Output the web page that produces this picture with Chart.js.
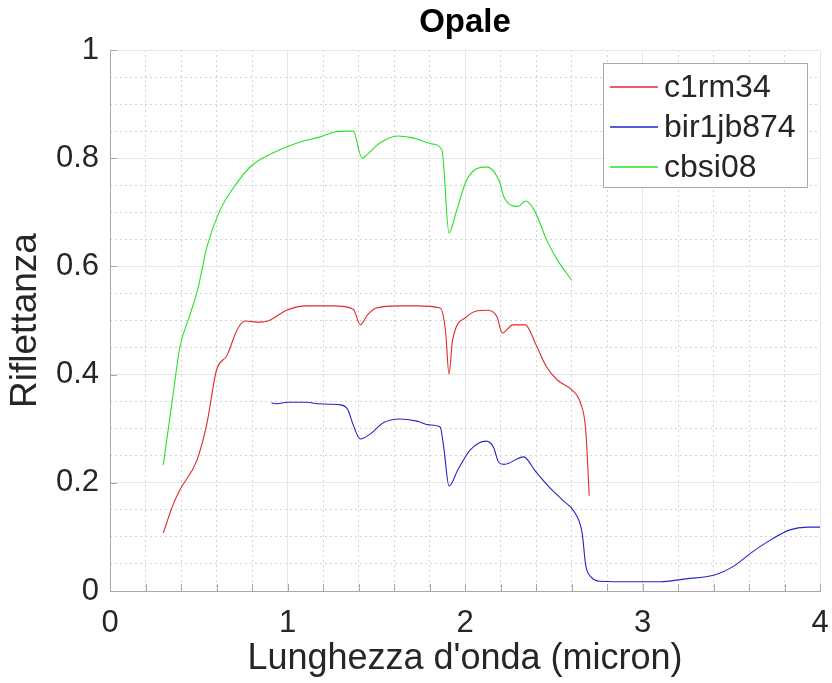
<!DOCTYPE html>
<html>
<head>
<meta charset="utf-8">
<title>Opale</title>
<script src="https://cdn.jsdelivr.net/npm/chart.js@4"></script>
<style>
  html, body { margin: 0; padding: 0; background: #fff; }
  #wrap { width: 832px; height: 683px; }
</style>
</head>
<body>
<div id="wrap"><canvas id="chart" width="832" height="683"></canvas></div>
<script>
// spectra: wavelength (micron) / reflectance
const seriesNames = ['c1rm34', 'bir1jb874', 'cbsi08'];
const seriesColors = ['rgb(228,40,40)', 'rgb(36,36,200)', 'rgb(40,224,40)'];

const c1rm34X = [0.30,0.35,0.394,0.49,0.546,0.60,0.66,0.715,0.76,0.845,0.89,0.995,1.11,1.26,1.37,1.41,1.45,1.50,1.63,1.73,1.86,1.89,1.91,1.93,2.01,2.07,2.13,2.18,2.21,2.27,2.34,2.40,2.46,2.52,2.60,2.65,2.68,2.70];
const c1rm34Y = [0.107,0.155,0.187,0.242,0.31,0.408,0.436,0.482,0.499,0.497,0.499,0.519,0.527,0.527,0.521,0.492,0.51,0.523,0.527,0.527,0.523,0.482,0.401,0.464,0.507,0.518,0.519,0.507,0.477,0.492,0.492,0.455,0.414,0.39,0.372,0.348,0.298,0.176];

const bir1jb874X = [0.91,0.94,1.00,1.11,1.17,1.30,1.34,1.37,1.41,1.465,1.54,1.63,1.73,1.80,1.86,1.88,1.91,1.96,2.03,2.12,2.16,2.19,2.22,2.33,2.40,2.48,2.55,2.62,2.66,2.68,2.71,2.76,2.95,3.10,3.23,3.41,3.51,3.61,3.72,3.83,3.93,4.00];
const bir1jb874Y = [0.348,0.346,0.349,0.349,0.346,0.344,0.335,0.307,0.281,0.29,0.311,0.318,0.314,0.307,0.303,0.266,0.194,0.224,0.261,0.277,0.266,0.238,0.234,0.248,0.22,0.19,0.168,0.144,0.107,0.048,0.026,0.018,0.017,0.017,0.022,0.030,0.045,0.07,0.094,0.113,0.118,0.118];

const cbsi08X = [0.30,0.35,0.394,0.45,0.496,0.546,0.62,0.714,0.80,0.92,1.07,1.18,1.26,1.35,1.37,1.42,1.45,1.52,1.62,1.70,1.82,1.87,1.91,1.95,2.01,2.12,2.19,2.22,2.30,2.34,2.39,2.46,2.52,2.60];
const cbsi08Y = [0.233,0.35,0.451,0.51,0.56,0.636,0.704,0.754,0.787,0.81,0.83,0.839,0.848,0.85,0.85,0.80,0.807,0.828,0.841,0.838,0.826,0.815,0.662,0.70,0.76,0.784,0.76,0.728,0.711,0.721,0.704,0.649,0.612,0.575];

const xRange = [0, 4];
const yRange = [0, 1];

const FONT = "'Liberation Sans', Arial, Helvetica, sans-serif";
const TEXT = '#262626';
const AXIS = '#a8a8a8';

function toPoints(xs, ys){
  return xs.map((x, i) => ({ x, y: ys[i] }));
}

function isMultiple(v, step){
  const r = v / step;
  return Math.abs(r - Math.round(r)) < 1e-6;
}

// keep the plot box fixed: no extra room for overhanging tick labels
function noLabelPadding(s){
  s.paddingLeft = 0; s.paddingRight = 0;
  s.paddingTop = 0; s.paddingBottom = 0;
}

// small inward ticks, like the matlab axes
const innerTicks = {
  id: 'innerTicks',
  beforeDatasetsDraw(chart){
    const { ctx, chartArea: a, scales } = chart;
    ctx.save();
    ctx.strokeStyle = AXIS;
    ctx.lineWidth = 1;
    ctx.beginPath();
    scales.xMinor.ticks.forEach(t => {
      const px = Math.round(scales.x.getPixelForValue(t.value)) + 0.5;
      ctx.moveTo(px, a.bottom);
      ctx.lineTo(px, a.bottom - 7);
    });
    scales.y.ticks.forEach(t => {
      const py = Math.round(scales.y.getPixelForValue(t.value)) + 0.5;
      ctx.moveTo(a.left, py);
      ctx.lineTo(a.left + 7, py);
    });
    ctx.stroke();
    ctx.restore();
  }
};

// boxed legend in the top right corner of the plot
const insetLegend = {
  id: 'insetLegend',
  afterDatasetsDraw(chart){
    const { ctx, chartArea: a } = chart;
    const w = 205, h = 125;
    const x0 = a.right - 12 - w, y0 = a.top + 13;
    ctx.save();
    ctx.fillStyle = '#fff';
    ctx.fillRect(x0, y0, w, h);
    ctx.strokeStyle = AXIS;
    ctx.lineWidth = 1;
    ctx.strokeRect(x0 + 0.5, y0 + 0.5, w - 1, h - 1);
    ctx.font = '32px ' + FONT;
    ctx.textBaseline = 'middle';
    chart.data.datasets.forEach((ds, i) => {
      const yy = Math.round(y0 + 24 + i * 40);
      ctx.beginPath();
      ctx.strokeStyle = seriesColors[i];
      ctx.lineWidth = 1.5;
      ctx.moveTo(x0 + 7, yy);
      ctx.lineTo(x0 + 55, yy);
      ctx.stroke();
      ctx.fillStyle = TEXT;
      ctx.fillText(ds.label, x0 + 61, yy + 1);
    });
    ctx.restore();
  }
};

const datasets = [
  toPoints(c1rm34X, c1rm34Y),
  toPoints(bir1jb874X, bir1jb874Y),
  toPoints(cbsi08X, cbsi08Y)
].map((pts, i) => ({
  label: seriesNames[i],
  data: pts,
  borderColor: seriesColors[i],
  borderWidth: 1.1,
  pointRadius: 0,
  cubicInterpolationMode: 'monotone',
  fill: false
}));

new Chart(document.getElementById('chart'), {
  type: 'line',
  data: { datasets },
  plugins: [innerTicks, insetLegend],
  options: {
    responsive: false,
    animation: false,
    devicePixelRatio: 1,
    layout: { padding: { left: 0, right: 12, top: 0, bottom: 0 } },
    plugins: {
      legend: { display: false },
      tooltip: { enabled: false },
      title: {
        display: true,
        fullSize: false,
        text: 'Opale',
        color: '#000',
        font: { family: FONT, size: 33, weight: 'bold' },
        padding: { top: 3, bottom: 7.4 }
      }
    },
    scales: {
      x: {
        type: 'linear', position: 'bottom',
        min: xRange[0], max: xRange[1],
        ticks: { stepSize: 1, color: TEXT, font: { family: FONT, size: 31 }, padding: 14, maxRotation: 0 },
        grid: { color: '#e6e6e6', drawTicks: false },
        border: { color: AXIS },
        title: { display: true, text: "Lunghezza d'onda (micron)", color: TEXT, font: { family: FONT, size: 36 }, padding: 2 },
        afterFit(s){ s.height = 92; noLabelPadding(s); }
      },
      xMinor: {
        type: 'linear', position: 'bottom',
        min: xRange[0], max: xRange[1],
        ticks: { stepSize: 0.2, display: false, maxTicksLimit: 100 },
        grid: {
          drawTicks: false,
          color: c => isMultiple(c.tick.value, 1) ? 'rgba(0,0,0,0)' : '#d4d4d4'
        },
        border: { display: false, dash: [2, 3] },
        afterFit(s){ s.height = 0; noLabelPadding(s); }
      },
      y: {
        type: 'linear', position: 'left',
        min: yRange[0], max: yRange[1],
        ticks: {
          stepSize: 0.2, color: TEXT, font: { family: FONT, size: 31 }, padding: 11,
          callback: v => String(Number(v.toFixed(1)))
        },
        grid: { color: '#e6e6e6', drawTicks: false },
        border: { color: AXIS },
        title: { display: true, text: 'Riflettanza', color: TEXT, font: { family: FONT, size: 37 }, padding: 4 },
        afterFit(s){ s.width = 110; noLabelPadding(s); }
      },
      yMinor: {
        type: 'linear', position: 'left',
        min: yRange[0], max: yRange[1],
        ticks: { stepSize: 0.05, display: false, maxTicksLimit: 100 },
        grid: {
          drawTicks: false,
          color: c => isMultiple(c.tick.value, 0.2) ? 'rgba(0,0,0,0)' : '#d4d4d4'
        },
        border: { display: false, dash: [2, 3] },
        afterFit(s){ s.width = 0; noLabelPadding(s); }
      }
    }
  }
});
</script>
</body>
</html>
